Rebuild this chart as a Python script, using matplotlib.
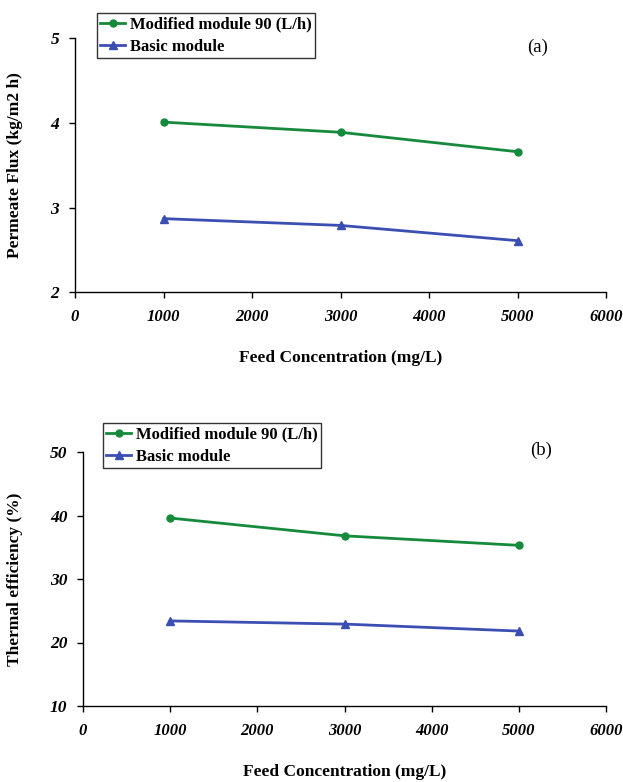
import matplotlib
matplotlib.use("Agg")
import matplotlib.pyplot as plt

plt.rcParams['font.family'] = ['Liberation Serif', 'DejaVu Serif']

feed = [1000, 3000, 5000]
flux_modified = [4.01, 3.89, 3.66]
flux_basic = [2.87, 2.79, 2.61]
eff_modified = [39.6, 36.8, 35.3]
eff_basic = [23.4, 22.9, 21.8]
x_ticks = [0, 1000, 2000, 3000, 4000, 5000, 6000]
flux_ticks = [2, 3, 4, 5]
eff_ticks = [10, 20, 30, 40, 50]
labels = ['Modified module 90 (L/h)', 'Basic module']

green = '#168a3c'
blue = '#3b4fb3'

W, H = 623, 782
fig = plt.figure(figsize=(W / 100, H / 100), dpi=100)

def px_axes(l, r, t, b):
    return fig.add_axes([l / W, 1 - b / H, (r - l) / W, (b - t) / H])

ax1 = px_axes(75, 606, 38.3, 292.3)
ax2 = px_axes(83, 606, 452, 706)

def style(ax, ymod, ybas, yticks, ylabel, tag, tagpos, legpos, ylab_x):
    ax.plot(feed, ymod, color=green, lw=2.0, marker='o', ms=5, label=labels[0])
    ax.plot(feed, ybas, color=blue, lw=2.0, marker='^', ms=5.5, label=labels[1])
    ax.set_xlim(0, 6000)
    ax.set_ylim(yticks[0], yticks[-1])
    ax.set_xticks(x_ticks)
    ax.set_yticks(yticks)
    ax.set_xticklabels([str(t) for t in x_ticks], fontsize=12, fontweight='bold', fontstyle='italic')
    ax.set_yticklabels([str(t) for t in yticks], fontsize=12.5, fontweight='bold', fontstyle='italic')
    for s in ['top', 'right']:
        ax.spines[s].set_visible(False)
    for s in ['left', 'bottom']:
        ax.spines[s].set_linewidth(1.0)
    ax.tick_params(axis='both', direction='out', length=4.3, width=1.0)
    ax.tick_params(axis='x', pad=8)
    ax.tick_params(axis='y', pad=7)
    ax.text(0.5, -66 / 254, 'Feed Concentration (mg/L)', transform=ax.transAxes,
            fontsize=12.5, fontweight='bold', ha='center', va='center')
    ax.text(ylab_x, 0.5, ylabel, transform=ax.transAxes, rotation=90,
            fontsize=12.5, fontweight='bold', ha='center', va='center')
    fig.text(tagpos[0] / W, 1 - tagpos[1] / H, tag, fontsize=13.5, ha='center', va='center')
    leg = ax.legend(loc='upper left', bbox_to_anchor=(legpos[0] / W, 1 - legpos[1] / H),
                    bbox_transform=fig.transFigure, frameon=True, fancybox=False,
                    edgecolor='black', prop={'weight': 'bold', 'size': 12},
                    handlelength=1.5, handletextpad=0.25, borderpad=0.2, labelspacing=0.4,
                    borderaxespad=0)
    leg.get_frame().set_linewidth(1.0)

style(ax1, flux_modified, flux_basic, flux_ticks, 'Permeate Flux (kg/m2 h)', '(a)',
      (538, 47), (97, 13), (15 - 75) / 531)
style(ax2, eff_modified, eff_basic, eff_ticks, 'Thermal efficiency (%)', '(b)',
      (541, 450), (103, 423), (15 - 83) / 523)

fig.savefig('out.png', dpi=100)
